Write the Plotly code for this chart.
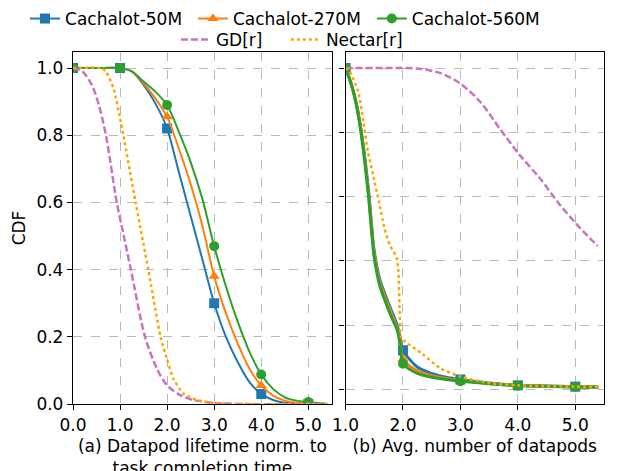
import plotly.graph_objects as go

W, H = 629, 471

# ---------------- Panel (a): datapod lifetime normalised to task completion time
a_x = [0.0, 0.5, 1.0, 1.25, 1.5, 1.75, 2.0, 2.25, 2.5, 2.75, 3.0, 3.25, 3.5,
       3.75, 4.0, 4.25, 4.5, 4.75, 5.0, 5.4]
a_50m = [1.0, 1.0, 1.0, 0.99, 0.95, 0.895, 0.82, 0.69, 0.56, 0.43, 0.30, 0.20,
         0.125, 0.065, 0.03, 0.012, 0.004, 0.001, 0.0, 0.0]
a_270m = [1.0, 1.0, 1.0, 0.99, 0.955, 0.91, 0.855, 0.76, 0.655, 0.53, 0.38, 0.27,
          0.18, 0.105, 0.055, 0.025, 0.01, 0.004, 0.002, 0.0]
a_560m = [1.0, 1.0, 1.0, 0.99, 0.96, 0.93, 0.89, 0.81, 0.72, 0.61, 0.47, 0.35,
          0.245, 0.155, 0.088, 0.045, 0.02, 0.01, 0.006, 0.0]
a_gd_x = [0.0, 0.2, 0.4, 0.55, 0.70, 0.93, 1.08, 1.23, 1.53, 1.78, 1.99, 2.27,
          2.55, 3.0, 3.5, 5.4]
a_gd = [1.0, 0.99, 0.95, 0.89, 0.80, 0.60, 0.50, 0.40, 0.20, 0.106, 0.057, 0.027,
        0.012, 0.003, 0.0, 0.0]
a_nectar_x = [0.0, 0.6, 0.7, 0.86, 1.0, 1.07, 1.33, 1.60, 1.86, 1.99, 2.13, 2.34,
              2.63, 3.0, 3.5, 5.4]
a_nectar = [1.0, 1.0, 0.99, 0.94, 0.85, 0.80, 0.60, 0.40, 0.20, 0.136, 0.076,
            0.032, 0.012, 0.003, 0.0, 0.0]

# ---------------- Panel (b): average number of datapods
b_x = [1.0, 1.1, 1.2, 1.3, 1.4, 1.5, 1.6, 1.7, 1.8, 1.9, 1.95, 2.0, 2.25, 2.5,
       2.75, 3.0, 3.5, 4.0, 4.5, 5.0, 5.4]
b_50m = [1.0, 0.95, 0.88, 0.77, 0.62, 0.43, 0.34, 0.29, 0.245, 0.20, 0.16, 0.122,
         0.07, 0.05, 0.038, 0.031, 0.02, 0.013, 0.011, 0.009, 0.008]
b_270m = [1.0, 0.95, 0.877, 0.765, 0.61, 0.42, 0.33, 0.28, 0.235, 0.19, 0.15,
          0.095, 0.058, 0.043, 0.034, 0.028, 0.019, 0.013, 0.01, 0.009, 0.008]
b_560m = [1.0, 0.95, 0.875, 0.76, 0.60, 0.41, 0.32, 0.27, 0.225, 0.185, 0.14,
          0.08, 0.05, 0.038, 0.031, 0.026, 0.018, 0.012, 0.01, 0.008, 0.007]
b_gd_x = [1.0, 2.0, 2.29, 2.64, 2.99, 3.34, 3.68, 4.03, 4.38, 4.73, 5.08, 5.39]
b_gd = [1.0, 1.0, 0.998, 0.985, 0.953, 0.896, 0.813, 0.73, 0.658, 0.575, 0.503,
        0.446]
b_nectar_x = [1.0, 1.07, 1.22, 1.31, 1.39, 1.48, 1.58, 1.68, 1.77, 1.89, 1.92,
              1.94, 1.97, 2.03, 2.35, 2.64, 2.99, 3.5, 4.0, 5.0, 5.4]
b_nectar = [1.0, 0.99, 0.927, 0.834, 0.74, 0.668, 0.585, 0.50, 0.45, 0.41, 0.37,
            0.254, 0.16, 0.15, 0.109, 0.067, 0.041, 0.02, 0.013, 0.009, 0.008]

a_ticks = [0, 1, 2, 3, 4, 5]
b_ticks = [1, 2, 3, 4, 5]
y_ticks = [0.0, 0.2, 0.4, 0.6, 0.8, 1.0]

names = ["Cachalot-50M", "Cachalot-270M", "Cachalot-560M", "GD[r]", "Nectar[r]"]
colors = ["#1f77b4", "#ff7f0e", "#2ca02c", "#c874c0", "#ffa500"]
symbols = ["square", "triangle-up", "circle"]

FONT = "DejaVu Sans"
fig = go.Figure()

def integer_points(xs, ys):
    px, py = [], []
    for x, y in zip(xs, ys):
        if float(x).is_integer():
            px.append(x)
            py.append(y)
    return px, py

cach_a = [a_50m, a_270m, a_560m]
cach_b = [b_50m, b_270m, b_560m]
legends = ["legend", "legend2", "legend3", "legend4", "legend5"]

for i in range(3):
    for xs, ys, xa, ya, lw in [(a_x, cach_a[i], "x", "y", 2),
                               (b_x, cach_b[i], "x2", "y2", 3)]:
        fig.add_trace(go.Scatter(x=xs, y=ys, mode="lines", xaxis=xa, yaxis=ya,
                                 line=dict(color=colors[i], width=lw,
                                           shape="spline", smoothing=0.8),
                                 showlegend=False, hoverinfo="skip"))
        mx, my = integer_points(xs, ys)
        fig.add_trace(go.Scatter(x=mx, y=my, mode="markers", xaxis=xa, yaxis=ya,
                                 marker=dict(color=colors[i], symbol=symbols[i],
                                             size=10),
                                 showlegend=False))

dash_gd = "7px,3px"
dash_nec = "3px,3px"
for xs, ys, xa, ya in [(a_gd_x, a_gd, "x", "y"), (b_gd_x, b_gd, "x2", "y2")]:
    fig.add_trace(go.Scatter(x=xs, y=ys, mode="lines", xaxis=xa, yaxis=ya,
                             line=dict(color=colors[3], width=2.5, dash=dash_gd,
                                       shape="spline", smoothing=0.8),
                             showlegend=False))
for xs, ys, xa, ya in [(a_nectar_x, a_nectar, "x", "y"),
                       (b_nectar_x, b_nectar, "x2", "y2")]:
    fig.add_trace(go.Scatter(x=xs, y=ys, mode="lines", xaxis=xa, yaxis=ya,
                             line=dict(color=colors[4], width=2.5, dash=dash_nec,
                                       shape="spline", smoothing=0.6),
                             showlegend=False))

# legend entries (one legend per entry for exact placement)
for i in range(5):
    if i < 3:
        tr = go.Scatter(x=[None], y=[None], mode="lines+markers", name=names[i],
                        line=dict(color=colors[i], width=2),
                        marker=dict(color=colors[i], symbol=symbols[i], size=10))
    elif i == 3:
        tr = go.Scatter(x=[None], y=[None], mode="lines", name=names[i],
                        line=dict(color=colors[i], width=2.5, dash=dash_gd))
    else:
        tr = go.Scatter(x=[None], y=[None], mode="lines", name=names[i],
                        line=dict(color=colors[i], width=2.5, dash=dash_nec))
    tr.update(legend=legends[i], showlegend=True)
    fig.add_trace(tr)

# page offset of the figure inside the browser page (default body margin)
OFF = 8
# target page-pixel positions of the plotting region
P_LEFT, P_RIGHT, P_TOP, P_BOTTOM = 73, 604.3, 52, 404
L = P_LEFT - OFF
T = P_TOP - OFF
R = W - (P_RIGHT - OFF)
B = H - (P_BOTTOM - OFF)
PW = W - L - R
PH = H - T - B

def px2x(px):
    return (px - OFF - L) / PW

def py2y(py):
    return (H - B - (py - OFF)) / PH

# (text start x, legend anchor y) in page pixels
leg_pos = [(65, 19), (233, 19), (412, 19), (216, 40), (326, 40)]
leg_layout = {}
for i, (tx, ty) in enumerate(leg_pos):
    leg_layout[legends[i]] = dict(
        x=px2x(tx - 40), y=py2y(ty), xanchor="left", yanchor="middle",
        orientation="h", bgcolor="rgba(0,0,0,0)", borderwidth=0,
        font=dict(family=FONT, size=17, color="black"))

axis_common = dict(showgrid=True, gridcolor="#b8b8b8", griddash="dash",
                   gridwidth=1, showline=True, mirror=True, linecolor="black",
                   linewidth=1.3, ticks="outside", ticklen=5, tickwidth=1.2,
                   tickcolor="black", zeroline=False, automargin=False,
                   tickfont=dict(family=FONT, size=17, color="black"))

fig.update_layout(
    width=W, height=H,
    margin=dict(l=L, r=R, t=T, b=B, autoexpand=False),
    paper_bgcolor="white", plot_bgcolor="white",
    font=dict(family=FONT, size=17, color="black"),
    xaxis=dict(domain=[0, px2x(332)], range=[0, 5.5], tickvals=a_ticks,
               ticktext=[f"{v:.1f}" for v in a_ticks], anchor="y",
               title=dict(text="(a) Datapod lifetime norm. to<br>task completion time",
                          standoff=6, font=dict(family=FONT, size=17)),
               **axis_common),
    yaxis=dict(domain=[0, 1], range=[0, 1.048], tickvals=y_ticks,
               ticktext=[f"{v:.1f}" for v in y_ticks], anchor="x",
               title=dict(text="CDF", standoff=6, font=dict(family=FONT, size=17)),
               **axis_common),
    xaxis2=dict(domain=[px2x(345.7), 1], range=[1, 5.5], tickvals=b_ticks,
                ticktext=[f"{v:.1f}" for v in b_ticks], anchor="y2",
                title=dict(text="(b) Avg. number of datapods", standoff=6,
                           font=dict(family=FONT, size=17)),
                **axis_common),
    yaxis2=dict(domain=[0, 1], range=[-0.045, 1.05], tickvals=y_ticks,
                showticklabels=False, anchor="x2", **axis_common),
    **leg_layout,
)

fig.write_html("out.html")
